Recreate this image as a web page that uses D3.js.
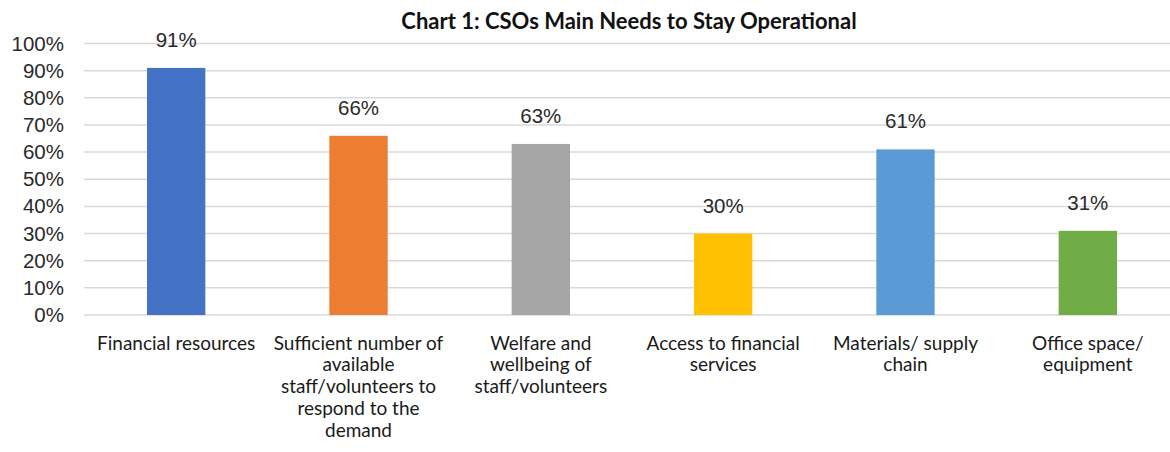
<!DOCTYPE html>
<meta charset="utf-8">
<script src="https://d3js.org/d3.v7.min.js"></script>
<style>
  body { margin: 0; background: #fff; }
</style>
<div id="my_dataviz"></div>
<script>

// data
var categories = [
  "Financial resources",
  "Sufficient number of\navailable\nstaff/volunteers to\nrespond to the\ndemand",
  "Welfare and\nwellbeing of\nstaff/volunteers",
  "Access to financial\nservices",
  "Materials/ supply\nchain",
  "Office space/\nequipment"
];
var values = [0.91, 0.66, 0.63, 0.30, 0.61, 0.31];
var colors = ["#4472C4", "#ED7D31", "#A5A5A5", "#FFC000", "#5B9BD5", "#70AD47"];
var yTicks = [0, 0.1, 0.2, 0.3, 0.4, 0.5, 0.6, 0.7, 0.8, 0.9, 1.0];
var title = "Chart 1: CSOs Main Needs to Stay Operational";

var W = 1170, H = 452;

var svg = d3.select("#my_dataviz")
  .append("svg")
    .attr("width", W)
    .attr("height", H);

var x = d3.scaleBand()
  .domain(d3.range(categories.length))
  .range([85, 1179])
  .paddingInner(0.68)
  .paddingOuter(0.34);

var y = d3.scaleLinear()
  .domain([0, 1])
  .range([315, 43.5]);

// gridlines
svg.append("g")
  .selectAll("line")
  .data(yTicks)
  .enter().append("line")
    .attr("x1", 84)
    .attr("x2", W)
    .attr("y1", function(d) { return y(d); })
    .attr("y2", function(d) { return y(d); })
    .attr("stroke", "#d9d9d9")
    .attr("stroke-width", 1.5);

// y axis labels
var yAxis = svg.append("g")
  .attr("transform", "translate(64,0)")
  .call(d3.axisLeft(y).tickValues(yTicks).tickFormat(d3.format(".0%")).tickSize(0).tickPadding(0));
yAxis.select(".domain").remove();
yAxis.selectAll("text")
  .attr("font-family", "Liberation Sans, Arial, sans-serif")
  .attr("font-size", 20.5)
  .attr("fill", "#2a2a2a");

// bars
svg.append("g")
  .selectAll("rect")
  .data(values)
  .enter().append("rect")
    .attr("x", function(d, i) { return x(i); })
    .attr("width", x.bandwidth())
    .attr("y", function(d) { return y(d); })
    .attr("height", function(d) { return y(0) - y(d); })
    .attr("fill", function(d, i) { return colors[i]; });

// value labels
svg.append("g")
  .selectAll("text")
  .data(values)
  .enter().append("text")
    .attr("x", function(d, i) { return x(i) + x.bandwidth() / 2; })
    .attr("y", function(d) { return y(d) - 21; })
    .attr("text-anchor", "middle")
    .attr("font-family", "Liberation Sans, Arial, sans-serif")
    .attr("font-size", 20.5)
    .attr("fill", "#2a2a2a")
    .text(function(d) { return Math.round(d * 100) + "%"; });

// category labels
var catLabels = svg.append("g")
  .selectAll("text")
  .data(categories)
  .enter().append("text")
    .attr("x", function(d, i) { return x(i) + x.bandwidth() / 2; })
    .attr("y", 349.5)
    .attr("text-anchor", "middle")
    .attr("font-family", "Lato, sans-serif")
    .attr("font-size", 19)
    .attr("fill", "#1a1a1a");
catLabels.selectAll("tspan")
  .data(function(d) { return d.split("\n"); })
  .enter().append("tspan")
    .attr("x", function() { return d3.select(this.parentNode).attr("x"); })
    .attr("dy", function(d, i) { return i === 0 ? 0 : 21.8; })
    .text(function(d) { return d; });

// title
svg.append("text")
  .attr("x", 629)
  .attr("y", 29)
  .attr("text-anchor", "middle")
  .attr("font-family", "Lato, sans-serif")
  .attr("font-weight", "bold")
  .attr("font-size", 22)
  .attr("fill", "#111")
  .text(title);

</script>
